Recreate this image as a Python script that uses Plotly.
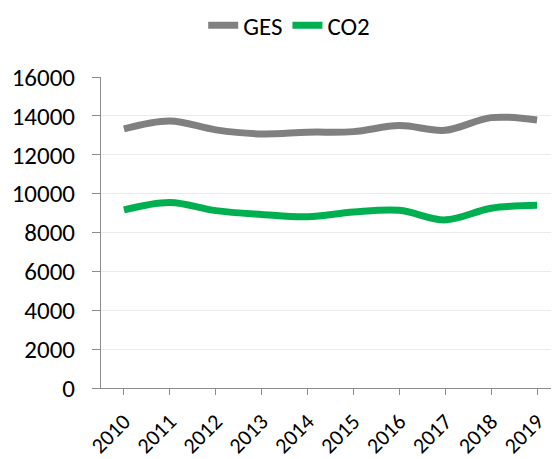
import plotly.graph_objects as go

years = ["2010", "2011", "2012", "2013", "2014", "2015", "2016", "2017", "2018", "2019"]
ges = [13330, 13740, 13280, 13070, 13160, 13190, 13500, 13260, 13910, 13790]
co2 = [9160, 9545, 9125, 8930, 8810, 9050, 9140, 8650, 9250, 9400]
y_ticks = [0, 2000, 4000, 6000, 8000, 10000, 12000, 14000, 16000]

fig = go.Figure()
fig.add_trace(go.Scatter(x=years, y=ges, name="GES", mode="lines",
                         line=dict(color="#808080", width=7, shape="spline", smoothing=1)))
fig.add_trace(go.Scatter(x=years, y=co2, name="CO2", mode="lines",
                         line=dict(color="#00B050", width=7, shape="spline", smoothing=1)))

font = "Carlito, Calibri, 'Open Sans', sans-serif"
fig.update_layout(
    width=559, height=459,
    margin=dict(l=93, r=7, t=69, b=79),
    paper_bgcolor="white", plot_bgcolor="white",
    font=dict(family=font, size=25, color="#000000"),
    showlegend=True,
    legend=dict(orientation="h", xref="paper", x=0.41, xanchor="center",
                yref="container", y=0.962, yanchor="middle",
                font=dict(size=25), itemwidth=30, tracegroupgap=0),
    xaxis=dict(type="category", range=[-0.5, 9.5], tickangle=-45, automargin=False,
               showline=True, linecolor="#8c8c8c", linewidth=1,
               ticks="outside", ticklen=6, tickcolor="#8c8c8c",
               ticklabelstandoff=5,
               showgrid=False, tickfont=dict(size=22)),
    yaxis=dict(range=[0, 16000], tickvals=y_ticks, ticktext=[str(v) for v in y_ticks],
               automargin=False,
               showline=True, linecolor="#8c8c8c", linewidth=1,
               ticks="outside", ticklen=8, tickcolor="#8c8c8c",
               ticklabelstandoff=12,
               showgrid=True, gridcolor="#ebebeb", gridwidth=1,
               zeroline=False, tickfont=dict(size=25)),
)

fig.write_html("out.html")
